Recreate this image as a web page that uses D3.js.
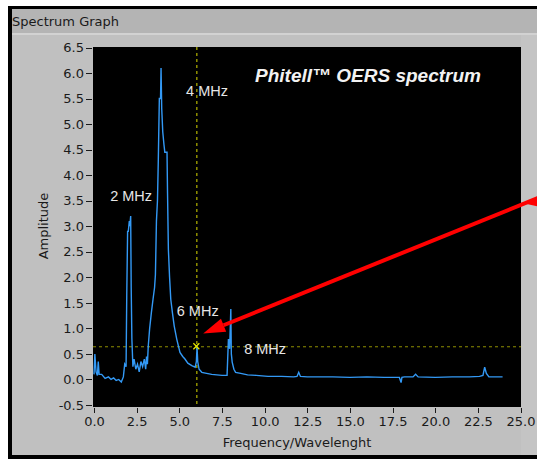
<!DOCTYPE html>
<html lang="en">
	<head>
		<meta charset="utf-8">
		<title>Spectrum Graph</title>
		<script type="text/javascript" src="https://cdn.jsdelivr.net/npm/d3@7"></script>
		<style type="text/css">
			body { margin: 0; background: #ffffff; }
			.axis text {
				font-family: "DejaVu Sans", sans-serif;
				font-size: 13px;
				fill: #1a1a1a;
				}
			.axis line { stroke: #1a1a1a; shape-rendering: crispEdges; }
			.note {
				font-family: "Liberation Sans", Arial, sans-serif;
				font-size: 14.5px;
				fill: #e6e6e6;
				}
		</style>
	</head>
	<body>
		<script type="text/javascript">

			var w = 537;
			var h = 461;

			// spectrum
			var freq = [0, 0.05, 0.12, 0.2, 0.25, 0.3, 0.45, 0.65, 0.85, 1.0, 1.15, 1.3, 1.45, 1.6, 1.72, 1.8, 1.88, 1.92, 1.97, 2.01,
				2.07, 2.1, 2.15, 2.18, 2.22, 2.28, 2.35, 2.45, 2.55, 2.65, 2.75, 2.85, 2.95, 3.03, 3.08, 3.13, 3.18, 3.26, 3.36, 3.46,
				3.55, 3.6, 3.66, 3.72, 3.77, 3.83, 3.9, 3.93, 3.97, 4.03, 4.1, 4.15, 4.28, 4.31, 4.36, 4.43, 4.5, 4.6, 4.7, 4.85,
				5.04, 5.2, 5.33, 5.5, 5.73, 5.93, 6.0, 6.04, 6.08, 6.16, 6.32, 6.6, 6.9, 7.2, 7.5, 7.8, 7.88, 7.95, 8.02, 8.05,
				8.1, 8.2, 8.3, 8.6, 9.0, 9.5, 10.2, 11.0, 11.7, 11.9, 12.0, 12.1, 12.5, 13.0, 14.0, 15.0, 16.0, 17.0, 17.9, 18.0,
				18.05, 18.2, 18.7, 18.85, 19.0, 20.0, 21.0, 22.0, 22.6, 22.8, 22.9, 23.0, 23.15, 23.5, 23.95];
			var amp = [0.1, 0.5, 0.15, 0.08, 0.35, 0.1, 0.1, 0.02, 0.05, 0.0, 0.03, -0.02, 0.0, -0.05, 0.05, 0.3, 0.25, 1.65, 2.9, 2.9,
				3.1, 3.0, 3.2, 1.8, 0.8, 0.25, 0.4, 0.2, 0.3, 0.15, 0.35, 0.25, 0.4, 0.2, 0.45, 0.3, 0.65, 0.99, 1.3, 1.57,
				1.8, 2.05, 3.1, 3.5, 4.3, 5.5, 5.5, 6.1, 5.3, 4.85, 4.6, 4.45, 4.45, 3.65, 2.55, 2.0, 1.57, 1.3, 1.05, 0.79,
				0.53, 0.45, 0.4, 0.32, 0.27, 0.24, 0.35, 0.63, 0.35, 0.2, 0.14, 0.12, 0.1, 0.09, 0.08, 0.08, 0.79, 0.6, 1.38, 0.5,
				0.34, 0.2, 0.14, 0.12, 0.09, 0.08, 0.06, 0.06, 0.05, 0.06, 0.14, 0.06, 0.05, 0.05, 0.05, 0.04, 0.05, 0.04, 0.04, -0.06,
				0.04, 0.05, 0.05, 0.1, 0.05, 0.04, 0.05, 0.05, 0.06, 0.08, 0.24, 0.12, 0.05, 0.05, 0.05];

			var xTicks = [0, 2.5, 5, 7.5, 10, 12.5, 15, 17.5, 20, 22.5, 25];
			var yTicks = [-0.5, 0, 0.5, 1, 1.5, 2, 2.5, 3, 3.5, 4, 4.5, 5, 5.5, 6, 6.5];

			// cursor position and annotations
			var cursor = [6.0, 0.65];
			var notes = [
				{ text: "4 MHz", f: 5.4, v: 5.55 },
				{ text: "2  MHz", f: 0.95, v: 3.5 },
				{ text: "6 MHz", f: 4.85, v: 1.24 },
				{ text: "8 MHz", f: 8.8, v: 0.5 }
			];
			var arrowFrom = [26.0, 3.55];
			var arrowTo = [6.4, 0.9];

			var xScale = d3.scaleLinear().domain([0, 25]).range([94, 520.5]);
			var yScale = d3.scaleLinear().domain([-0.5, 6.5]).range([405, 47.5]);

			var svg = d3.select("body")
						.append("svg")
						.attr("width", w)
						.attr("height", h);

			// window frame
			svg.append("rect").attr("x", 8).attr("y", 6).attr("width", w).attr("height", 453).attr("fill", "#000");
			svg.append("rect").attr("x", 12).attr("y", 9).attr("width", w).attr("height", 446).attr("fill", "#c0c0c0");
			svg.append("rect").attr("x", 12).attr("y", 9).attr("width", w).attr("height", 24).attr("fill", "#b4b4b4");
			svg.append("rect").attr("x", 12).attr("y", 33).attr("width", w).attr("height", 2).attr("fill", "#d2d2d2");
			svg.append("rect").attr("x", 521).attr("y", 35).attr("width", 16).attr("height", 420).attr("fill", "#c4c4c4");

			svg.append("text")
				.attr("x", 12).attr("y", 26)
				.attr("font-family", "'DejaVu Sans', sans-serif")
				.attr("font-size", "13px")
				.attr("fill", "#1a1a1a")
				.text("Spectrum Graph");

			// plot area
			svg.append("rect")
				.attr("x", 93).attr("y", 47)
				.attr("width", 428).attr("height", 360)
				.attr("fill", "#000");

			svg.append("clipPath").attr("id", "clip")
				.append("rect").attr("x", 93).attr("y", 47).attr("width", 428).attr("height", 360);

			var fmt = function(d) { return d.toFixed(1); };

			svg.append("g")
				.attr("class", "axis")
				.attr("transform", "translate(92,0)")
				.call(d3.axisLeft(yScale).tickValues(yTicks).tickFormat(fmt).tickSize(6).tickPadding(2))
				.call(function(g) { g.select(".domain").remove(); });

			svg.append("g")
				.attr("class", "axis")
				.attr("transform", "translate(0,408)")
				.call(d3.axisBottom(xScale).tickValues(xTicks).tickFormat(fmt).tickSize(5).tickPadding(4))
				.call(function(g) { g.select(".domain").remove(); });

			svg.append("text")
				.attr("x", 297).attr("y", 447)
				.attr("text-anchor", "middle")
				.attr("font-family", "'DejaVu Sans', sans-serif")
				.attr("font-size", "13px")
				.attr("fill", "#1a1a1a")
				.text("Frequency/Wavelenght");

			svg.append("text")
				.attr("transform", "translate(48,226) rotate(-90)")
				.attr("text-anchor", "middle")
				.attr("font-family", "'DejaVu Sans', sans-serif")
				.attr("font-size", "13px")
				.attr("fill", "#1a1a1a")
				.text("Amplitude");

			var plot = svg.append("g").attr("clip-path", "url(#clip)");

			// cursor lines
			plot.append("line")
				.attr("x1", xScale(cursor[0]) + 0.5).attr("x2", xScale(cursor[0]) + 0.5)
				.attr("y1", 47).attr("y2", 407)
				.attr("stroke", "#d8d800").attr("stroke-dasharray", "3,3");
			plot.append("line")
				.attr("x1", 93).attr("x2", 521)
				.attr("y1", yScale(cursor[1]) + 0.5).attr("y2", yScale(cursor[1]) + 0.5)
				.attr("stroke", "#8f8f00").attr("stroke-dasharray", "3,3");

			// spectrum
			var line = d3.line()
				.x(function(d, i) { return xScale(freq[i]); })
				.y(function(d) { return yScale(d); });

			plot.append("path")
				.datum(amp)
				.attr("d", line)
				.attr("fill", "none")
				.attr("stroke", "#3399f5")
				.attr("stroke-width", 1.4);

			// cursor marker
			var cx = xScale(cursor[0]), cy = yScale(cursor[1]);
			plot.append("path")
				.attr("d", "M" + (cx - 3) + "," + (cy - 3) + "L" + (cx + 3) + "," + (cy + 3) +
					"M" + (cx - 3) + "," + (cy + 3) + "L" + (cx + 3) + "," + (cy - 3))
				.attr("stroke", "#e8e800").attr("stroke-width", 1.2);

			// labels
			svg.selectAll(".note")
				.data(notes)
				.enter()
				.append("text")
				.attr("class", "note")
				.attr("x", function(d) { return xScale(d.f); })
				.attr("y", function(d) { return yScale(d.v); })
				.text(function(d) { return d.text; });

			svg.append("text")
				.attr("x", 255).attr("y", 82)
				.attr("font-family", "'Liberation Sans', Arial, sans-serif")
				.attr("font-size", "19px")
				.attr("font-weight", "bold")
				.attr("font-style", "italic")
				.attr("fill", "#f2f2f2")
				.text("Phitell\u2122 OERS spectrum");

			// red arrow
			var x1 = xScale(arrowFrom[0]), y1 = yScale(arrowFrom[1]);
			var x2 = xScale(arrowTo[0]), y2 = yScale(arrowTo[1]);
			var ang = Math.atan2(y2 - y1, x2 - x1);
			var hl = 22, hw = 7;
			var bx = x2 - hl * Math.cos(ang), by = y2 - hl * Math.sin(ang);
			svg.append("line")
				.attr("x1", x1).attr("y1", y1)
				.attr("x2", bx).attr("y2", by)
				.attr("stroke", "#ff0000").attr("stroke-width", 4);
			svg.append("path")
				.attr("d", "M" + x2 + "," + y2 +
					"L" + (bx - hw * Math.sin(ang)) + "," + (by + hw * Math.cos(ang)) +
					"L" + (bx + hw * Math.sin(ang)) + "," + (by - hw * Math.cos(ang)) + "Z")
				.attr("fill", "#ff0000");
			// widening tail at right edge
			var tx = xScale(25.3), ty = yScale(3.44);
			svg.append("path")
				.attr("d", "M" + tx + "," + ty +
					"L" + (x1 + 3) + "," + (y1 - 4) +
					"L" + (x1 + 3) + "," + (y1 + 9) + "Z")
				.attr("fill", "#ff0000");

		</script>
	</body>
</html>
